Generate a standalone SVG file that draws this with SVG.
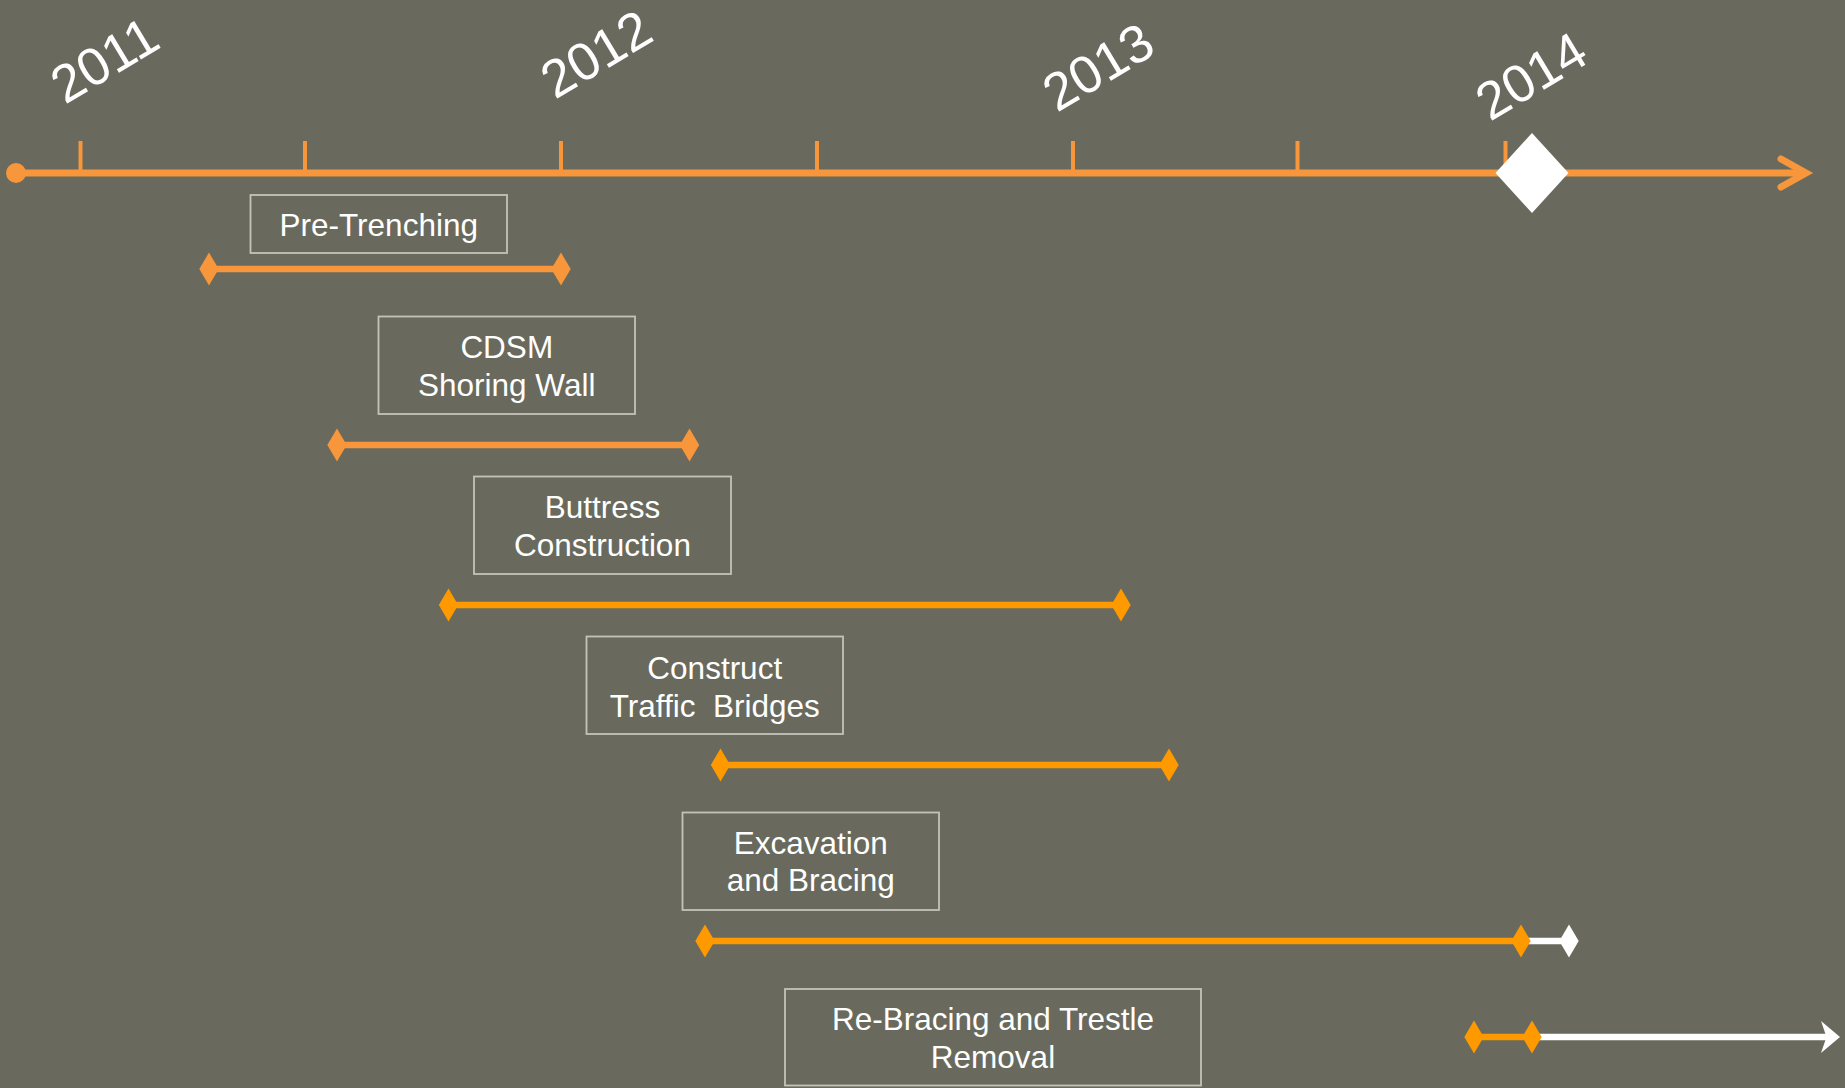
<svg xmlns="http://www.w3.org/2000/svg" width="1845" height="1088" viewBox="0 0 1845 1088">
<defs>
<style>
.bg{fill:#696A5D}
.tl{stroke:#F7963A;stroke-width:7;fill:none}
.tick{stroke:#F7963A;stroke-width:4}
.box{fill:none;stroke:#C4C4BC;stroke-width:1.8}
.lbl{font-family:"Liberation Sans",Arial,sans-serif;font-size:31.5px;fill:#FFFFFF;text-anchor:middle}
.yr{font-family:"Liberation Sans",Arial,sans-serif;font-size:53px;fill:#FFFFFF}
.barA{stroke:#F7963A;stroke-width:6.5;fill:none}
.barB{stroke:#FF9900;stroke-width:6.5;fill:none}
.barW{stroke:#FFFFFF;stroke-width:6.5;fill:none}
.dA{fill:#F7963A}
.dB{fill:#FF9900}
.dW{fill:#FFFFFF}
</style>
<path id="dia" d="M0,-16.5 L9.7,0 L0,16.5 L-9.7,0 Z"/>
</defs>
<rect class="bg" x="0" y="0" width="1845" height="1088"/>

<g id="timeline">
<line class="tl" x1="16" y1="173" x2="1805" y2="173"/>
<circle cx="16" cy="173" r="10" fill="#F7963A"/>
<polyline class="tl" points="1781,159 1806,173 1781,187" stroke-linecap="round" stroke-linejoin="miter"/>
<line class="tick" x1="80.5" y1="141" x2="80.5" y2="173"/>
<line class="tick" x1="305" y1="141" x2="305" y2="173"/>
<line class="tick" x1="561" y1="141" x2="561" y2="173"/>
<line class="tick" x1="817" y1="141" x2="817" y2="173"/>
<line class="tick" x1="1073" y1="141" x2="1073" y2="173"/>
<line class="tick" x1="1297.5" y1="141" x2="1297.5" y2="173"/>
<line class="tick" x1="1505.5" y1="141" x2="1505.5" y2="173"/>
<polygon points="1532,133 1568.5,173 1532,213 1495.5,173" fill="#FFFFFF"/>
</g>

<g id="years">
<text class="yr" transform="translate(65,105) rotate(-31)">2011</text>
<text class="yr" transform="translate(555,100) rotate(-31)">2012</text>
<text class="yr" transform="translate(1057,113) rotate(-31)">2013</text>
<text class="yr" transform="translate(1490,122) rotate(-31)">2014</text>
</g>

<g id="node-pre-trenching">
<rect class="box" x="250.5" y="195" width="256.5" height="58"/>
<text class="lbl" x="378.75" y="236">Pre-Trenching</text>
</g>
<g id="node-cdsm">
<rect class="box" x="378.5" y="316.5" width="256.5" height="97.5"/>
<text class="lbl" x="506.75" y="357.5">CDSM</text>
<text class="lbl" x="506.75" y="396">Shoring Wall</text>
</g>
<g id="node-buttress">
<rect class="box" x="474" y="476.5" width="257" height="97.5"/>
<text class="lbl" x="602.5" y="518">Buttress</text>
<text class="lbl" x="602.5" y="556">Construction</text>
</g>
<g id="node-bridges">
<rect class="box" x="586.5" y="636.5" width="256.5" height="97.5"/>
<text class="lbl" x="714.75" y="678.5">Construct</text>
<text class="lbl" x="714.75" y="716.5" xml:space="preserve">Traffic  Bridges</text>
</g>
<g id="node-excavation">
<rect class="box" x="682.5" y="812.5" width="256.5" height="97.5"/>
<text class="lbl" x="810.75" y="853.5">Excavation</text>
<text class="lbl" x="810.75" y="891">and Bracing</text>
</g>
<g id="node-rebracing">
<rect class="box" x="785" y="989" width="416" height="96.5"/>
<text class="lbl" x="993" y="1030">Re-Bracing and Trestle</text>
<text class="lbl" x="993" y="1068">Removal</text>
</g>

<g id="connectors">
<line class="barA" x1="209" y1="269" x2="561" y2="269"/>
<use href="#dia" x="209" y="269" class="dA"/>
<use href="#dia" x="561" y="269" class="dA"/>

<line class="barA" x1="337" y1="445" x2="689.5" y2="445"/>
<use href="#dia" x="337" y="445" class="dA"/>
<use href="#dia" x="689.5" y="445" class="dA"/>

<line class="barB" x1="448.5" y1="605" x2="1121" y2="605"/>
<use href="#dia" x="448.5" y="605" class="dB"/>
<use href="#dia" x="1121" y="605" class="dB"/>

<line class="barB" x1="720.5" y1="765" x2="1169" y2="765"/>
<use href="#dia" x="720.5" y="765" class="dB"/>
<use href="#dia" x="1169" y="765" class="dB"/>

<line class="barB" x1="705" y1="941" x2="1521" y2="941"/>
<line class="barW" x1="1521" y1="941" x2="1569" y2="941"/>
<use href="#dia" x="705" y="941" class="dB"/>
<use href="#dia" x="1521" y="941" class="dB"/>
<use href="#dia" x="1569" y="941" class="dW"/>

<line class="barB" x1="1474" y1="1037" x2="1532" y2="1037"/>
<line class="barW" x1="1532" y1="1037" x2="1828" y2="1037"/>
<polygon points="1840,1037 1821,1021 1826.5,1037 1821,1053" fill="#FFFFFF"/>
<use href="#dia" x="1474" y="1037" class="dB"/>
<use href="#dia" x="1532" y="1037" class="dB"/>
</g>
</svg>
